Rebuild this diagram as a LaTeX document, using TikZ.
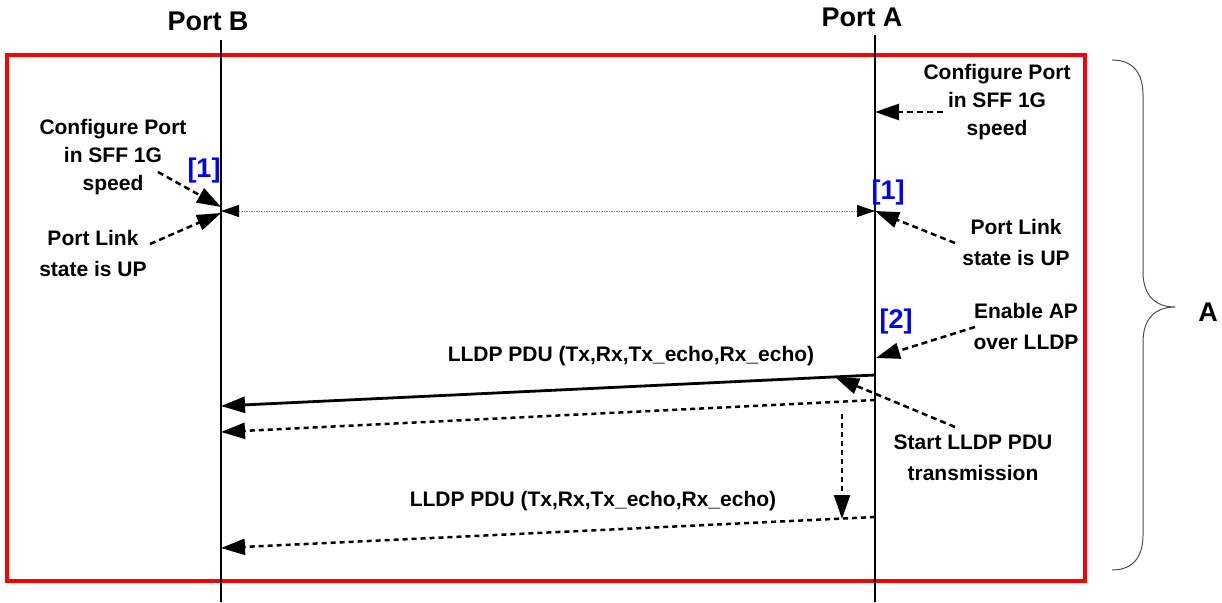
\documentclass[tikz,border=0pt]{standalone}
\usepackage{fontspec}
\setmainfont{Liberation Sans}
\usetikzlibrary{arrows.meta}
\begin{document}
\begin{tikzpicture}[x=1pt,y=-1pt,
  lbl/.style={font=\bfseries\fontsize{21}{28}\selectfont, align=center, inner sep=0pt},
  lbltwo/.style={font=\bfseries\fontsize{21}{31}\selectfont, align=center, inner sep=0pt},
  hdr/.style={font=\bfseries\fontsize{27}{30}\selectfont, inner sep=0pt},
  tag/.style={font=\bfseries\fontsize{27}{30}\selectfont, text=blue, inner sep=0pt},
  lifeline/.style={line width=2pt, black},
  note/.style={line width=2.5pt, dash pattern=on 6pt off 4pt, -{Triangle[length=24pt,width=16pt]}},
  msgsolid/.style={line width=2.8pt, -{Triangle[length=24pt,width=16pt]}},
  msgdot/.style={line width=2.5pt, dash pattern=on 5pt off 4pt, -{Triangle[length=24pt,width=16pt]}},
  link/.style={line width=1pt, gray, dash pattern=on 1.5pt off 1pt, {Triangle[length=18pt,width=12pt,color=black]}-{Triangle[length=18pt,width=12pt,color=black]}},
  bracestyle/.style={line width=1pt, black!70}
]
\useasboundingbox (0,0) rectangle (1222,602);

% frame
\draw[red, line width=4pt] (7,55) rectangle (1085,581);

% lifelines
\coordinate (Btop) at (221,40);  \coordinate (Bbot) at (221,602);
\coordinate (Atop) at (875,35);  \coordinate (Abot) at (875,602);
\draw[lifeline] (Btop) -- (Bbot);
\draw[lifeline] (Atop) -- (Abot);

\node[hdr] (portB) at (208,21) {Port B};
\node[hdr] (portA) at (862,17) {Port A};

% points on lifelines
\coordinate (B1a) at (221,207);
\coordinate (B1b) at (221,213);
\coordinate (Bl) at (221,211);
\coordinate (Al) at (875,211);
\coordinate (Acfg) at (875,112);
\coordinate (A2) at (876,358);
\coordinate (M1s) at (875,375);  \coordinate (M1e) at (221,406);
\coordinate (M2s) at (875,400);  \coordinate (M2e) at (221,432);
\coordinate (M3s) at (875,517);  \coordinate (M3e) at (221,548);
\coordinate (StartTip) at (835,377);
\coordinate (Vtop) at (842,414); \coordinate (Vbot) at (842,519);

% left notes
\node[lbl] (cfgL) at (113,157) {Configure Port\\in SFF 1G\\speed};
\node[lbltwo] (linkL) at (93,253) {Port Link\\state is UP};
\node[tag] (b1L) at (204,171) {[1]};
\coordinate (cfgLs) at (158,172);
\coordinate (linkLs) at (150,244);
\draw[note] (cfgLs) -- (B1a);
\draw[note] (linkLs) -- (B1b);

% link up
\draw[link] (Bl) -- (Al);

% right notes
\node[lbl] (cfgR) at (997,102) {Configure Port\\in SFF 1G\\speed};
\coordinate (cfgRs) at (943,112);
\draw[note] (cfgRs) -- (Acfg);

\node[tag] (b1R) at (888,193) {[1]};
\node[lbltwo] (linkR) at (1016,242) {Port Link\\state is UP};
\coordinate (linkRs) at (955,243);
\draw[note] (linkRs) -- (Al);

\node[tag] (b2) at (896,322) {[2]};
\node[lbltwo] (enab) at (1026,326) {Enable AP\\over LLDP};
\coordinate (enabs) at (975,327);
\draw[note] (enabs) -- (A2);

\node[lbltwo] (start) at (973,458) {Start LLDP PDU\\transmission};
\coordinate (starts) at (955,427);
\draw[note] (starts) -- (StartTip);

% messages
\node[lbl] (m1) at (631,356) {LLDP PDU (Tx,Rx,Tx\_echo,Rx\_echo)};
\draw[msgsolid] (M1s) -- (M1e);
\draw[msgdot] (M2s) -- (M2e);
\draw[msgdot] (Vtop) -- (Vbot);
\node[lbl] (m2) at (593,501) {LLDP PDU (Tx,Rx,Tx\_echo,Rx\_echo)};
\draw[msgdot] (M3s) -- (M3e);

% brace
\draw[bracestyle] (1112,60) .. controls (1132,60) and (1143,72) .. (1143,95)
  -- (1143,272) .. controls (1143,295) and (1155,307) .. (1175,307)
  .. controls (1155,307) and (1143,319) .. (1143,342)
  -- (1143,535) .. controls (1143,558) and (1132,570) .. (1112,570);
\node[hdr] (Alab) at (1208,312) {A};
\end{tikzpicture}
\end{document}
